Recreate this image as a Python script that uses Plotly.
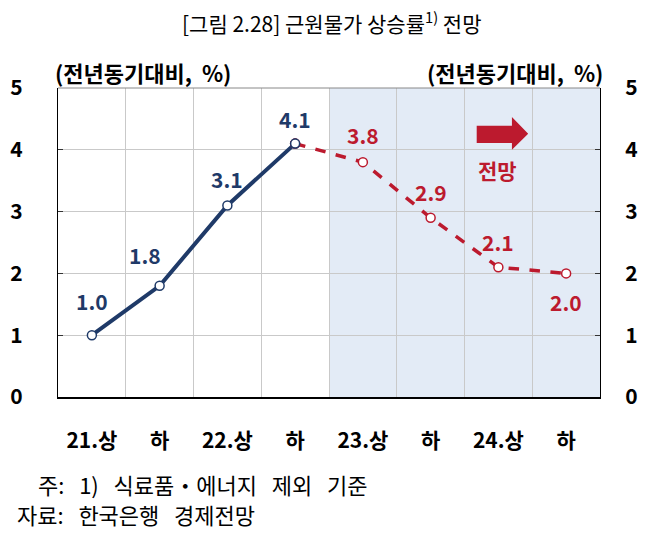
import plotly.graph_objects as go

categories = ["21.상", "하", "22.상", "하", "23.상", "하", "24.상", "하"]
actual = [1.0, 1.8, 3.1, 4.1]
forecast = [4.1, 3.8, 2.9, 2.1, 2.0]
label_values = [1.0, 1.8, 3.1, 4.1, 3.8, 2.9, 2.1, 2.0]
y_ticks = [0, 1, 2, 3, 4, 5]

navy = "#1F3A68"
red = "#BC1A2E"
font = "Noto Sans CJK KR"
sp = "\u00a0\u00a0\u00a0"

x_act = list(range(len(actual)))
x_fc = list(range(len(actual) - 1, len(categories)))

fig = go.Figure()

# forecast shading
fig.add_shape(type="rect", xref="x", yref="paper", x0=3.5, x1=7.5, y0=0, y1=1,
              fillcolor="#E3EBF6", line_width=0, layer="below")

fig.add_trace(go.Scatter(x=x_act, y=actual, mode="lines+markers",
                         line=dict(color=navy, width=4),
                         marker=dict(size=9, color="white", line=dict(color=navy, width=1.5)),
                         showlegend=False))
fig.add_trace(go.Scatter(x=x_fc, y=forecast, mode="lines+markers",
                         line=dict(color=red, width=3.5, dash="dash"),
                         marker=dict(size=9, color="white", line=dict(color=red, width=1.5)),
                         showlegend=False))
# redraw the 4.1 point in navy
fig.add_trace(go.Scatter(x=[x_act[-1]], y=[actual[-1]], mode="markers",
                         marker=dict(size=9, color="white", line=dict(color=navy, width=1.5)),
                         showlegend=False))

# value labels
shifts = [(0, 34), (-15, 31), (0, 26), (0, 25), (0, 27), (0, 26), (0, 25), (0, -29)]
for i, v in enumerate(label_values):
    fig.add_annotation(x=i, y=v, text=f"<b>{v:.1f}</b>", showarrow=False,
                       xshift=shifts[i][0], yshift=shifts[i][1],
                       font=dict(size=21, color=navy if i < 4 else red, family=font))

# forecast arrow
fig.add_shape(type="path", xref="x", yref="y",
              path="M 5.68 4.11 L 6.2 4.11 L 6.2 4.0 L 6.44 4.26 L 6.2 4.53 L 6.2 4.39 L 5.68 4.39 Z",
              fillcolor=red, line_width=0)
fig.add_annotation(x=5.99, y=3.67, text="<b>전망</b>", showarrow=False,
                   font=dict(size=21, color=red, family=font))

# top border
fig.add_shape(type="line", xref="paper", yref="paper", x0=0, x1=1, y0=1, y1=1,
              line=dict(color="#888888", width=1))

# title
fig.add_annotation(xref="paper", yref="paper", x=0.504, y=1, xanchor="center", yanchor="middle",
                   yshift=66, text="[그림 2.28] 근원물가 상승률<sup>1)</sup> 전망", showarrow=False,
                   font=dict(size=21, color="black", family=font))

# unit labels
unit = "<b>(전년동기대비,\u00a0\u00a0%)</b>"
fig.add_annotation(xref="paper", yref="paper", x=-0.01, y=1, xanchor="left", yanchor="bottom",
                   yshift=-2, text=unit, showarrow=False,
                   font=dict(size=22, color="black", family=font))
fig.add_annotation(xref="paper", yref="paper", x=1.01, y=1, xanchor="right", yanchor="bottom",
                   yshift=-2, text=unit, showarrow=False,
                   font=dict(size=22, color="black", family=font))

# notes
fig.add_annotation(xref="paper", yref="paper", x=-0.04, y=-0.28, xanchor="left", yanchor="middle",
                   text=f"주:{sp}1){sp}식료품・에너지{sp}제외{sp}기준", showarrow=False,
                   font=dict(size=22, color="black", family=font))
fig.add_annotation(xref="paper", yref="paper", x=-0.08, y=-0.38, xanchor="left", yanchor="middle",
                   text=f"자료:{sp}한국은행{sp}경제전망", showarrow=False,
                   font=dict(size=22, color="black", family=font))

# page body has an 8px margin, so the figure is laid out 8px smaller
fig.update_layout(
    width=655, height=537,
    margin=dict(l=50, r=63, t=80, b=148),
    paper_bgcolor="white", plot_bgcolor="white",
    font=dict(family=font, color="black"),
    xaxis=dict(range=[-0.5, 7.5], tickvals=list(range(len(categories))),
               ticktext=[f"<b>{c}</b>" for c in categories], automargin=False,
               tickfont=dict(size=21, family=font), showgrid=False, zeroline=False,
               showline=True, linecolor="black", linewidth=1.5, ticks="", ticklabelstandoff=24,
               minor=dict(tickvals=[0.5 + i for i in range(7)], showgrid=True,
                          gridcolor="#C9C9C9", gridwidth=1, ticks="")),
    yaxis=dict(range=[0, 5], tickvals=y_ticks, ticktext=[f"<b>{t}</b>" for t in y_ticks],
               tickfont=dict(size=21, family=font), showgrid=True, gridcolor="#C9C9C9",
               zeroline=False, showline=True, linecolor="black", linewidth=1.2, automargin=False,
               ticks="inside", ticklen=5, tickcolor="#333333", ticklabelstandoff=30),
    yaxis2=dict(range=[0, 5], tickvals=y_ticks, ticktext=[f"<b>{t}</b>" for t in y_ticks],
                tickfont=dict(size=21, family=font), overlaying="y", side="right",
                showgrid=False, zeroline=False, showline=True, linecolor="black", linewidth=1.2,
                automargin=False, ticks="inside", ticklen=5, tickcolor="#333333",
                ticklabelstandoff=20),
)
# dummy trace to show right axis
fig.add_trace(go.Scatter(x=[0], y=[0], yaxis="y2", mode="markers", marker=dict(opacity=0),
                         hoverinfo="skip", showlegend=False))

fig.write_html("out.html")
